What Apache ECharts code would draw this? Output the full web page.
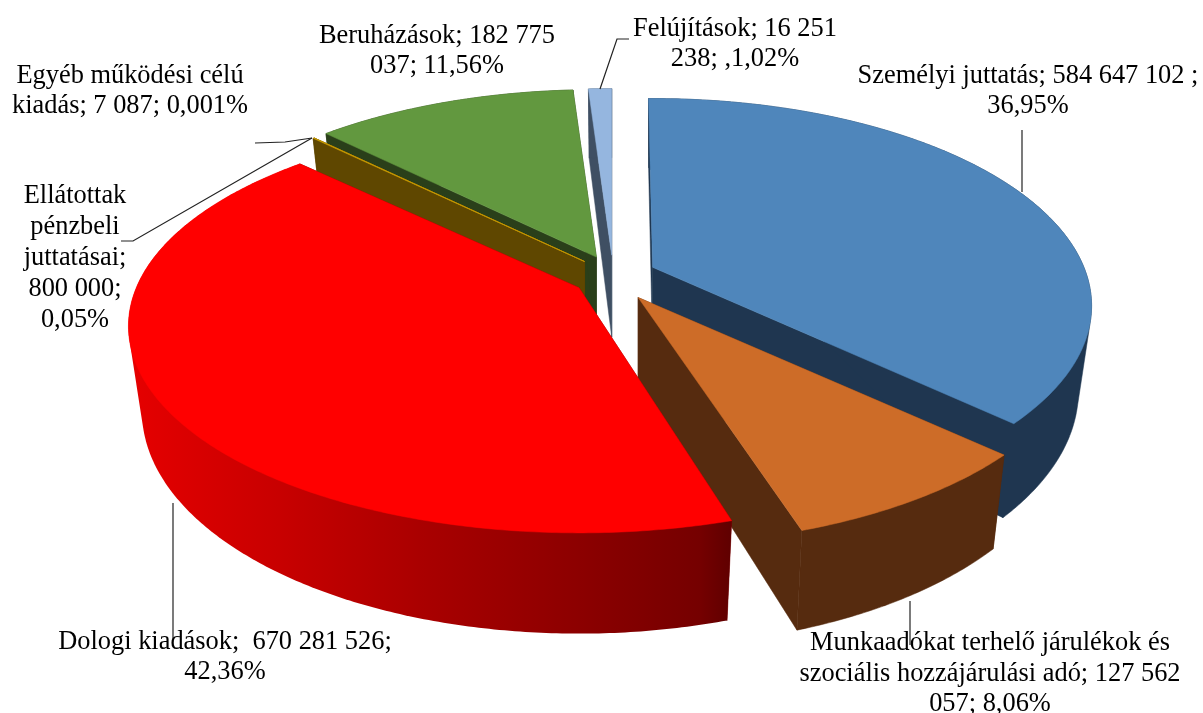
<!DOCTYPE html>
<html>
<head>
<meta charset="utf-8">
<style>html,body{margin:0;padding:0;background:#fff}#c{width:1203px;height:713px}</style>
<script src="https://cdn.jsdelivr.net/npm/echarts@6/dist/echarts.min.js"></script>
</head>
<body>
<div id="c"></div>
<script>
// ---- data ----
const categories = ['Személyi juttatás','Munkaadókat terhelő járulékok és szociális hozzájárulási adó','Dologi kiadások','Ellátottak pénzbeli juttatásai','Egyéb működési célú kiadás','Beruházások','Felújítások'];
const values = [584647102,127562057,670281526,800000,7087,182775037,16251238];
const labelLines = [
  'Személyi juttatás; 584 647 102 ;\n36,95%',
  'Munkaadókat terhelő járulékok és\nszociális hozzájárulási adó; 127 562\n057; 8,06%',
  'Dologi kiadások;  670 281 526;\n42,36%',
  'Ellátottak\npénzbeli\njuttatásai;\n800 000;\n0,05%',
  'Egyéb működési célú\nkiadás; 7 087; 0,001%',
  'Beruházások; 182 775\n037; 11,56%',
  'Felújítások; 16 251\n238; ,1,02%'
];
// ---- styles and layout ----
const topColors  = ['#4f86bb','#cd6c28','#ff0000','#c89a00','#c89a00','#62983f','#95b6df'];
const wallColors = ['#1f3650','#562b0f','#7a0000','#5f4700','#5f4700','#2a3f1a','#3f4f63'];
const drawOrder  = [3,4,5,2,2,1,0];
const explodeScale = [1.08,1.17,1,1,1,1,1];
const radiusScaleX = [0.987,1,1.013,0.985,0.985,0.985,0.98];
const radiusScaleY = [0.993,1,0.99,0.985,0.985,0.985,0.98];
const startNudgeDeg = [-0.65,0,1.5,0,0,0,0];
const labelCenters = [[1028,91],[990,674],[225,657],[75,258],[130,91],[437,51],[735,44]];
const labelLineHeights = [30.5,30.5,30.5,31,30.5,30.5,30.5];
const leaderLines = [
  [[1022,130],[1022,192]],
  [[910,601],[910,645]],
  [[173,503],[173,640]],
  [[121,241],[133,241],[312,138]],
  [[255,143],[285,142],[312,138]],
  [[600,89],[617,39],[629,39]]
];
// ---- projection of the tilted disc ----
const CX=613, CY=276.5, EX=40, EY=21.3, RX=437, KY=201.6, P=0.186, D0=82, BOT=0.97;
const total = values.reduce((a,b)=>a+b,0);
const cum = []; values.reduce((a,b,i)=>{cum[i]=a;return a+b;},0);

function topPt(ax,ay,th,i){
  const s=Math.sin(th),c=Math.cos(th),f=1/(1+P*c);
  return [ax+RX*radiusScaleX[i]*s*f, ay-KY*radiusScaleY[i]*c*f, f];
}
function botOf(ax,p){
  return [ax+(p[0]-ax)*BOT, p[1]+D0*p[2]];
}
function hull(points){
  const pts=points.map(p=>[p[0],p[1]]).sort((a,b)=>a[0]-b[0]||a[1]-b[1]);
  const cross=(o,a,b)=>(a[0]-o[0])*(b[1]-o[1])-(a[1]-o[1])*(b[0]-o[0]);
  const lo=[],up=[];
  for(const p of pts){while(lo.length>1&&cross(lo[lo.length-2],lo[lo.length-1],p)<=0)lo.pop();lo.push(p);}
  for(let i=pts.length-1;i>=0;i--){const p=pts[i];while(up.length>1&&cross(up[up.length-2],up[up.length-1],p)<=0)up.pop();up.push(p);}
  lo.pop();up.pop();
  return lo.concat(up);
}
function redSide(){
  return new echarts.graphic.LinearGradient(128,0,730,0,[
    {offset:0,color:'#e60000'},{offset:.25,color:'#c80000'},{offset:.5,color:'#a80000'},
    {offset:.75,color:'#8c0000'},{offset:.95,color:'#750000'},{offset:1,color:'#600000'}
  ],true);
}
function renderSlice(params,api){
  const i=params.dataIndex;
  const v=api.value(0);
  const a00=cum[i]/total*2*Math.PI, a1=a00+v/total*2*Math.PI, am=a00+(a1-a00)/2;
  const a0=a00+startNudgeDeg[i]*Math.PI/180;
  const ax=CX+EX*explodeScale[i]*Math.sin(am), ay=CY-EY*explodeScale[i]*Math.cos(am);
  const arc=[];
  const n=Math.max(2,Math.ceil((a1-a0)/0.01));
  for(let k=0;k<=n;k++) arc.push(topPt(ax,ay,a0+(a1-a0)*k/n,i));
  const botArc=arc.map(p=>botOf(ax,p));
  const apexTop=[ax,ay], apexBot=[ax,ay+D0];
  const z=drawOrder[i]*10;
  const flat=arc.map(p=>[p[0],p[1]]);
  const wall=wallColors[i];
  const poly=(pts,fill,z2)=>({type:'polygon',z2:z2,shape:{points:pts},style:{fill:fill,stroke:typeof fill==='string'?fill:null,lineWidth:0.5}});
  const side = i===2 ? redSide() : wall;
  return {type:'group',children:[
    poly([apexTop,flat[0],botArc[0],apexBot],wall,z),
    poly([apexTop,flat[n],botArc[n],apexBot],wall,z+1),
    poly(hull(flat.concat(botArc)),side,z+2),
    poly([apexTop].concat(flat),topColors[i],z+3)
  ]};
}
const labelGraphics = labelLines.map((t,i)=>({
  type:'text',z:20,x:labelCenters[i][0],y:labelCenters[i][1],
  style:{text:t,fill:'#000',font:'26.4px "Liberation Serif"',align:'center',verticalAlign:'middle',lineHeight:labelLineHeights[i]}
}));
const lineGraphics = leaderLines.map(pts=>({
  type:'polyline',z:10,shape:{points:pts},style:{stroke:'#222',lineWidth:1.2,fill:null}
}));
const chart=echarts.init(document.getElementById('c'),null,{renderer:'canvas'});
chart.setOption({
  animation:false,
  backgroundColor:'#fff',
  graphic:lineGraphics.concat(labelGraphics),
  series:[{
    type:'custom',coordinateSystem:'none',renderItem:renderSlice,silent:true,
    data:values.map((v,i)=>({name:categories[i],value:[v]}))
  }]
});
</script>
</body>
</html>
